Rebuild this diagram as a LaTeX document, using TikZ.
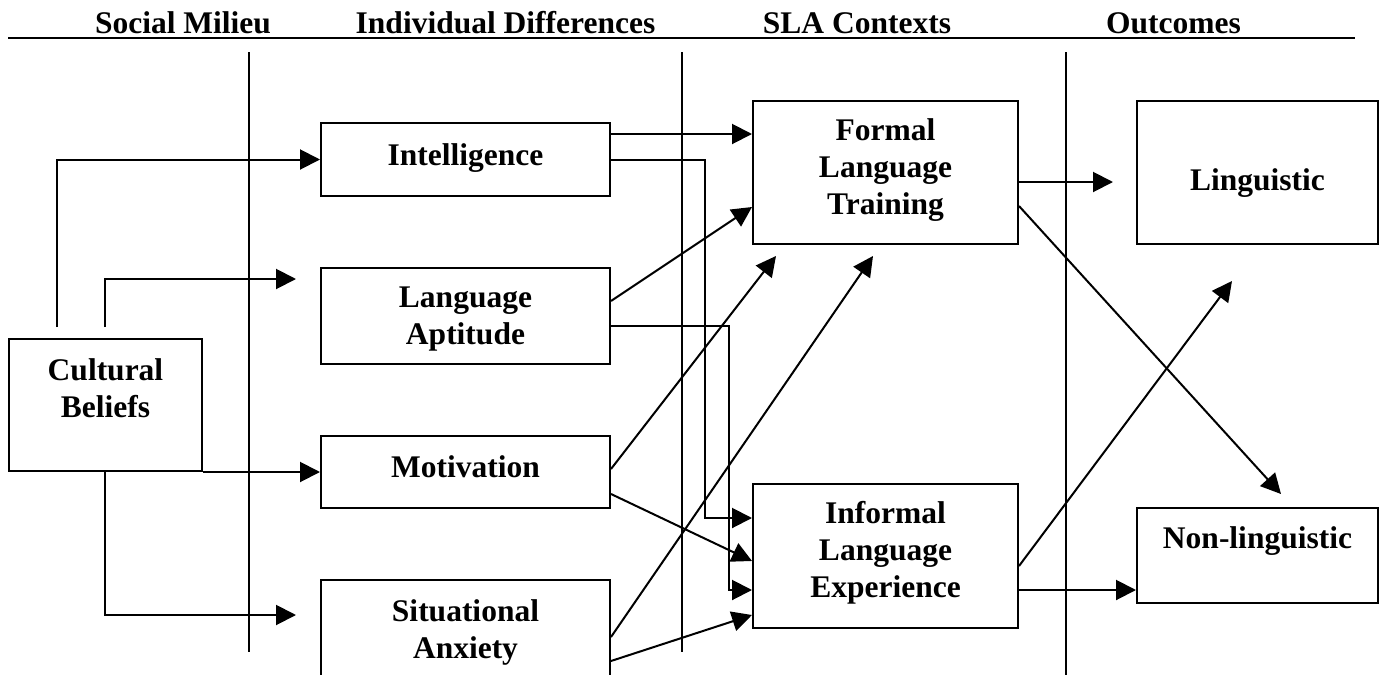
\documentclass[tikz,border=0pt]{standalone}
\usepackage{fontspec}
\setmainfont{Liberation Serif}
\usetikzlibrary{arrows.meta,calc}
\begin{document}
\begin{tikzpicture}[x=0.5pt,y=-0.5pt,
  box/.style={draw,line width=1pt,rectangle,inner sep=0pt},
  lbl/.style={font=\bfseries\fontsize{15.75pt}{18.5pt}\selectfont,align=center,inner sep=0pt,anchor=north},
  hdr/.style={font=\bfseries\fontsize{15.75pt}{18.5pt}\selectfont,inner sep=0pt,anchor=base},
  rule/.style={line width=1pt},
  arr/.style={line width=1pt,-{Triangle[length=10pt,width=10pt]}},
  con/.style={line width=1pt}]
\useasboundingbox (0,0) rectangle (1383,675);
\clip (0,0) rectangle (1383,675);
\fill[white] (0,0) rectangle (1383,675);

% headers
\node[hdr] (h1) at (183,33) {Social Milieu};
\node[hdr] (h2) at (505.5,33) {Individual Differences};
\node[hdr] (h3) at (857,33) {SLA Contexts};
\node[hdr] (h4) at (1173.5,33) {Outcomes};
\coordinate (hl) at (8,38);
\coordinate (hr) at (1355,38);
\draw[rule] (hl) -- (hr);

% column separators
\coordinate (v1t) at (249,52);  \coordinate (v1b) at (249,652);
\coordinate (v2t) at (682,52);  \coordinate (v2b) at (682,652);
\coordinate (v3t) at (1066,52); \coordinate (v3b) at (1066,680);
\draw[rule] (v1t) -- (v1b);
\draw[rule] (v2t) -- (v2b);
\draw[rule] (v3t) -- (v3b);

% boxes
\node[box,minimum width=96.5pt,minimum height=66pt] (cult) at (105.5,405) {};
\node[box,minimum width=144.5pt,minimum height=36.5pt] (intel) at (465.5,159.5) {};
\node[box,minimum width=144.5pt,minimum height=48pt] (apt) at (465.5,316) {};
\node[box,minimum width=144.5pt,minimum height=36pt] (motiv) at (465.5,472) {};
\node[box,minimum width=144.5pt,minimum height=60pt] (anx) at (465.5,640) {};
\node[box,minimum width=132.5pt,minimum height=71.5pt] (formal) at (885.5,172.5) {};
\node[box,minimum width=132.5pt,minimum height=72pt] (informal) at (885.5,556) {};
\node[box,minimum width=120.5pt,minimum height=71.5pt] (ling) at (1257.5,172.5) {};
\node[box,minimum width=120.5pt,minimum height=47.5pt] (nonling) at (1257.5,555.5) {};

% labels
\node[lbl] (cultT) at ($(cult.north)+(0,20)$) {Cultural\\Beliefs};
\node[lbl] (intelT) at ($(intel.north)+(0,21)$) {Intelligence};
\node[lbl] (aptT) at ($(apt.north)+(0,19)$) {Language\\Aptitude};
\node[lbl] (motivT) at ($(motiv.north)+(0,20)$) {Motivation};
\node[lbl] (anxT) at ($(anx.north)+(0,20)$) {Situational\\Anxiety};
\node[lbl] (formalT) at ($(formal.north)+(0,18)$) {Formal\\Language\\Training};
\node[lbl] (informalT) at ($(informal.north)+(0,18)$) {Informal\\Language\\Experience};
\node[lbl] (lingT) at ($(ling.north)+(0,68)$) {Linguistic};
\node[lbl] (nonlingT) at ($(nonling.north)+(0,19)$) {Non-linguistic};

% Cultural beliefs connectors
\coordinate (c1) at ($(cult.north west)+(49,-11)$);
\coordinate (c2) at ($(cult.north west)+(97,-11)$);
\coordinate (c3) at ($(cult.south west)+(97,0)$);
\coordinate (a1) at ($(apt.west)+(-24,-37)$);
\coordinate (s1) at ($(anx.north west)+(-24,36)$);
\draw[arr] (c1) |- (intel.west);
\draw[arr] (c2) |- (a1);
\draw[arr] (cult.south east) -- (cult.south east -| motiv.west);
\draw[arr] (c3) |- (s1);

% Individual differences -> SLA contexts
\coordinate (i1) at ($(intel.north east)+(0,12)$);
\draw[arr] (i1) -- (i1 -| formal.west);
\coordinate (f1) at ($(informal.north west)+(0,35)$);
\draw[arr] (intel.east) -| ($(f1)+(-47,0)$) -- (f1);

\coordinate (p1) at ($(apt.north east)+(0,34)$);
\coordinate (p2) at ($(apt.north east)+(0,59)$);
\coordinate (fl1) at ($(formal.north west)+(0,107)$);
\coordinate (f3) at ($(informal.north west)+(0,107)$);
\draw[arr] (p1) -- (fl1);
\draw[arr] (p2) -| ($(f3)+(-23,0)$) -- (f3);

\coordinate (m1) at ($(motiv.north east)+(0,34)$);
\coordinate (m2) at ($(motiv.north east)+(0,59)$);
\coordinate (fb1) at ($(formal.south west)+(24,11)$);
\coordinate (f2) at ($(informal.north west)+(0,78)$);
\draw[arr] (m1) -- (fb1);
\draw[arr] (m2) -- (f2);

\coordinate (x1) at ($(anx.north east)+(0,58)$);
\coordinate (x2) at ($(anx.north east)+(0,82)$);
\coordinate (fb2) at ($(formal.south west)+(121,11)$);
\coordinate (f4) at ($(informal.north west)+(0,132)$);
\draw[arr] (x1) -- (fb2);
\draw[arr] (x2) -- (f4);

% SLA contexts -> outcomes
\coordinate (o1) at ($(formal.north east)+(0,82)$);
\coordinate (o2) at ($(formal.north east)+(0,106)$);
\coordinate (o3) at ($(informal.north east)+(0,83)$);
\coordinate (o4) at ($(informal.north east)+(0,107)$);
\coordinate (l1) at ($(ling.west |- o1)+(-23,0)$);
\coordinate (n1) at ($(nonling.north west)+(145,-13)$);
\coordinate (l2) at ($(ling.south west)+(96,36)$);
\draw[arr] (o1) -- (l1);
\draw[arr] (o2) -- (n1);
\draw[arr] (o3) -- (l2);
\draw[arr] (o4) -- (o4 -| nonling.west);
\end{tikzpicture}
\end{document}
